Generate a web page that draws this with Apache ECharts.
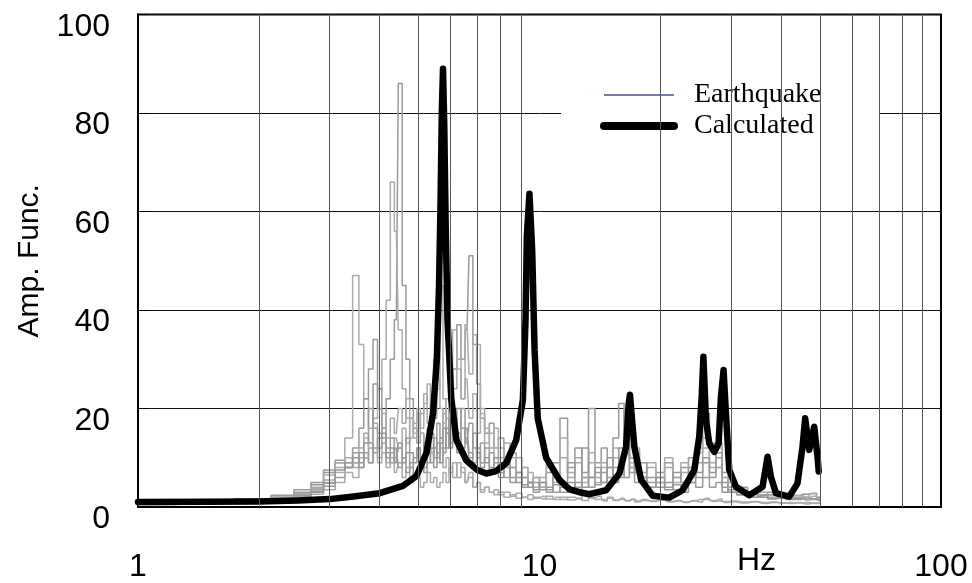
<!DOCTYPE html>
<html>
<head>
<meta charset="utf-8">
<script src="https://cdn.jsdelivr.net/npm/echarts@6/dist/echarts.min.js"></script>
<style>
html,body{margin:0;padding:0;background:#fff}
#main{width:972px;height:583px}
</style>
</head>
<body>
<div id="main"></div>
<script>
// frequency grid (Hz) shared by the recorded spectra
var freqs = [1.0,1.5,2.0,2.3,2.6,2.8,3.0,3.2,3.35,
  3.5,3.6,3.7,3.8,3.9,4.0,4.1,4.2,4.3,4.4,4.5,4.6,4.7,4.8,4.9,5.0,5.1,5.2,5.3,5.4,5.5,5.6,5.7,5.8,5.9,
  6.0,6.15,6.3,6.45,6.6,6.75,6.9,7.05,7.2,
  7.4,7.6,7.8,8.0,
  8.3,8.6,8.9,9.2,9.5,9.8,
  10.2,10.6,11.0,
  11.5,12.0,12.5,13.0,13.5,14.0,14.5,15.0,15.5,16.0,16.5,17.0,17.5,18.0,
  19,20,21,22,23,24,25,26,27,28,29,30,
  32,34,36,38,40,42,44,46,48,50];

// earthquake records (amplification)
var eq1 = [0.6,0.9,1.3,1.8,2.6,3.5,5.0,8.0,14,
  47,33,22,16,12,9,11,8,10,7,9,6,8,5,7,6,4,5,7,5,6,4,5,7,5,
  8,6,9,7,5,6,4,5,3,
  4,3,2.5,3,
  2,2.5,1.8,2,1.5,2,
  1.6,2.2,1.5,
  2,1.4,1.8,1.3,2,1.5,1.2,1.8,1.3,1.6,1.2,1.5,1.0,1.3,
  1.1,1.4,1.0,1.2,0.9,1.3,1.0,1.5,1.1,1.2,0.9,1.0,
  0.8,1.0,0.7,0.9,0.8,0.7,0.9,0.6,0.8,0.7];
var eq2 = [0.5,0.8,1.2,1.6,2.2,3.0,4.2,6,8,
  9,11,10,13,11,14,16,22,30,38,86,45,30,22,16,13,15,11,13,9,12,10,14,11,16,
  13,18,15,12,16,11,9,12,8,
  10,7,9,6,
  8,5,6,4,5,3.5,
  5,3,4.5,
  3,5,3.5,6,4,7,5,8,5,9,6,8,5,6,
  4,5,3.5,4.5,3,5,4,6,4,5,3,3.5,
  2.5,3,2,2.5,1.8,2.2,1.5,2,1.6,1.8];
var eq3 = [0.7,1.0,1.5,2.0,2.8,3.8,5.5,7,9,
  8,10,14,12,18,24,30,42,66,56,36,24,18,14,17,20,15,12,16,11,14,9,12,8,10,
  7,9,6,8,5,7,4,5,3.5,
  4,3,3.5,2.5,
  3,2.2,2.8,2,2.5,1.8,
  2.2,1.6,2,
  1.5,2,1.6,2.5,1.8,2.2,1.5,2,1.4,1.8,1.3,1.6,1.2,1.5,
  1.2,1.4,1.1,1.3,1.0,1.2,1.5,1.8,1.3,1.6,1.1,1.2,
  1.0,1.1,0.9,1.0,0.8,0.9,0.8,0.9,0.7,0.8];
var eq4 = [0.6,0.9,1.4,2.0,3.0,4.5,7,9,8,
  12,16,22,28,34,24,16,12,14,10,12,9,11,8,10,12,9,13,11,15,12,17,14,19,15,
  22,28,37,30,36,51,33,25,18,
  15,17,12,14,
  9,11,7,8,5,6,
  4,7,9,
  18,8,12,7,20,9,12,8,14,21,15,10,8,6,
  5,7,9,6,8,10,12,19,13,10,7,5,
  4,3,2.5,3,2,2.5,2,2.6,2.8,2];
var eq5 = [0.5,0.8,1.1,1.5,2.0,2.6,3.5,5,7,
  6,8,10,9,12,10,13,9,11,14,12,16,13,18,15,19,16,21,25,20,30,24,45,22,18,
  25,36,28,22,37,27,35,33,20,
  16,12,16,10,
  13,8,10,6,7,4,
  6,8,5,
  10,6,9,5,11,6,9,6,12,7,13,8,11,7,
  9,6,8,5,7,6,9,12,8,13,6,4,
  3,2,2.4,1.8,2.2,1.6,2,1.8,2.2,1.5];
var eq6 = [0.8,1.1,1.7,2.4,3.5,5,7.5,9.5,8,
  10,8,11,9,25,20,14,10,12,9,13,10,7,9,6,8,10,7,9,12,8,11,13,16,12,
  18,14,20,16,13,17,12,10,13,
  9,11,7,9,
  6,8,5,6,4,5,
  3.5,4,3,
  4,3.5,5,4,6,4.5,7,5,8,6,11,7,9,5,
  6,4,5,3.5,4.5,5,7,9,6,8,4,3,
  2.5,3,2,2.5,1.8,2,1.6,1.9,1.5,1.3];
var eq7 = [0.7,1.0,1.4,1.9,2.7,4,6.5,9,10,
  9,12,15,13,17,15,19,14,18,15,20,17,22,18,14,16,19,23,17,21,18,26,20,17,22,
  19,24,30,22,26,18,23,15,19,
  13,15,10,12,
  8,10,6,8,5,6,
  4,9,6,
  14,7,10,6,9,5,8,6,10,8,16,9,12,6,
  8,5,10,6,9,7,11,14,9,12,6,4,
  3.5,2.5,3,2,2.6,1.8,2.4,2,2.7,1.6];
var eq8 = [0.6,0.9,1.2,1.7,2.4,3.2,4.8,7.5,9,
  11,9,13,20,16,12,15,11,9,12,8,10,14,11,9,12,10,8,11,14,10,13,9,12,15,
  12,16,11,20,14,10,15,11,9,
  12,8,10,7,
  9,6,7,4.5,5,3,
  5,3.5,6,
  5,9,4,12,6,8,5,10,6,12,20,10,7,9,
  4,6,4,7,5,8,6,10,7,11,5,3,
  2.8,2,2.4,1.6,2,1.5,1.8,1.4,1.6,1.2];
var records = [eq1, eq2, eq3, eq4, eq5, eq6, eq7, eq8];

// calculated transfer function
var calcFreq = [1.0,1.5,2.0,2.5,3.0,3.4,4.0,4.57,4.94,5.23,5.43,5.55,5.62,5.67,5.71,5.75,5.79,5.84,5.9,
  6.03,6.21,6.57,7.0,7.37,7.8,8.26,8.75,9.09,9.23,9.3,9.44,9.59,9.72,9.9,
  10.39,11.21,11.88,12.58,13.31,14.65,15.81,16.43,16.68,16.8,16.95,17.23,17.91,19.13,21.05,22.72,
  24.3,25.0,25.35,25.6,25.98,26.48,27.25,27.93,28.31,28.74,29.13,29.69,30.85,33.3,
  35.94,36.98,37.71,38.81,41.88,43.91,45.19,45.89,46.96,48.32,49.25,49.6];
var calcAmp = [1.0,1.05,1.1,1.3,1.6,2.1,2.8,4.3,6.3,11,19,30,45,62,80,89,78,57,38,
  22,13.6,9.5,7.5,6.8,7.3,8.9,13.6,21.7,38,55,63.6,52,32,18,
  10,5.5,3.6,3.0,2.6,3.4,6.8,12.2,21,22.8,19,12.2,5.5,2.3,1.9,3.4,
  7.5,14.3,22.4,30.5,17.6,12.9,11.2,12.9,22.4,27.8,19,7.5,4.1,2.4,
  4.1,10.2,6.1,2.8,2.1,4.8,12.2,18,11.6,16.3,10.2,7.2];

var minorTicks = [2,3,4,5,6,7,8,9,20,30,40,50,60,70,80,90];

var grayColors = ['#ababab', '#999999'];

var myChart = echarts.init(document.getElementById('main'));

var series = [];
// vertical log grid lines
series.push({
  type: 'line',
  name: 'grid',
  data: [],
  z: 1,
  silent: true,
  markLine: {
    silent: true,
    symbol: ['none', 'none'],
    label: {show: false},
    lineStyle: {color: '#555', width: 1, type: 'solid'},
    data: minorTicks.map(function (v) { return {xAxis: v}; })
  }
});
records.forEach(function (vals, i) {
  series.push({
    type: 'line',
    name: 'Earthquake',
    step: 'middle',
    data: freqs.map(function (f, j) { return [f, vals[j]]; }),
    symbol: 'none',
    silent: true,
    z: 2,
    itemStyle: {color: grayColors[i % 2]},
    lineStyle: {color: grayColors[i % 2], width: 1.5}
  });
});
series.push({
  type: 'line',
  name: 'Calculated',
  data: calcFreq.map(function (f, i) { return [f, calcAmp[i]]; }),
  symbol: 'none',
  z: 3,
  itemStyle: {color: '#000'},
  lineStyle: {color: '#000', width: 6.5, cap: 'round', join: 'round'}
});

var option = {
  animation: false,
  backgroundColor: '#fff',
  grid: {
    left: 138, right: 31, top: 14.5, bottom: 76,
    show: true, borderColor: '#000', borderWidth: 2
  },
  legend: {
    orient: 'vertical',
    left: 561,
    top: 65,
    padding: [16, 58, 24, 39],
    backgroundColor: '#fff',
    itemWidth: 70,
    itemHeight: 20,
    itemGap: 3,
    textStyle: {fontFamily: 'Liberation Serif', fontSize: 28, color: '#000', padding: [0, 0, 0, 15]},
    data: [
      {name: 'Earthquake', itemStyle: {color: 'rgba(0,0,0,0)', borderWidth: 0},
        lineStyle: {color: '#7a7ab2', width: 2}},
      {name: 'Calculated', itemStyle: {color: 'rgba(0,0,0,0)', borderWidth: 0},
        lineStyle: {color: '#000', width: 8}}
    ]
  },
  xAxis: {
    type: 'log',
    logBase: 10,
    min: 1,
    max: 100,
    axisLine: {lineStyle: {color: '#000', width: 2}},
    axisTick: {show: false},
    splitLine: {show: false},
    axisLabel: {color: '#000', fontSize: 32, fontFamily: 'Liberation Sans', margin: 44}
  },
  yAxis: {
    type: 'value',
    min: 0,
    max: 100,
    interval: 20,
    name: 'Amp. Func.',
    nameLocation: 'middle',
    nameGap: 93,
    nameTextStyle: {fontSize: 30, color: '#000', fontFamily: 'Liberation Sans'},
    axisLine: {show: true, lineStyle: {color: '#000', width: 2}},
    axisTick: {show: true, inside: true, length: 10, lineStyle: {color: '#000'}},
    splitLine: {lineStyle: {color: '#111', width: 1}},
    axisLabel: {color: '#000', fontSize: 32, fontFamily: 'Liberation Sans', margin: 28,
      verticalAlign: 'top', lineHeight: 25}
  },
  graphic: [{
    type: 'text',
    left: 737,
    top: 545,
    style: {text: 'Hz', fontSize: 32, fontFamily: 'Liberation Sans', fill: '#000'}
  }],
  series: series
};

myChart.setOption(option);
</script>
</body>
</html>
